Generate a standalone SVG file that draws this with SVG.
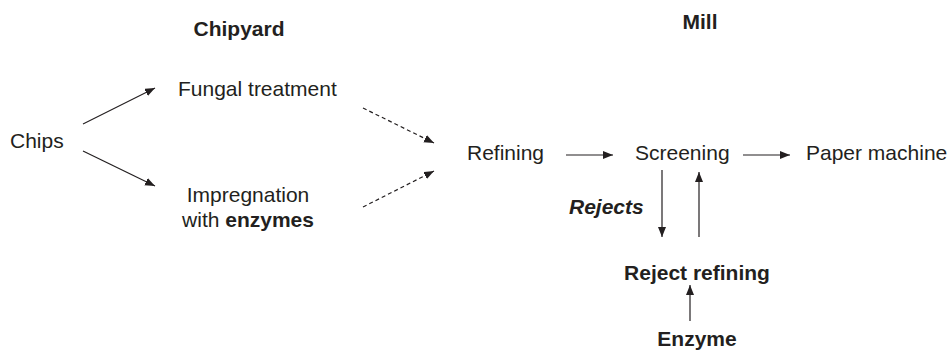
<svg xmlns="http://www.w3.org/2000/svg" width="952" height="351" viewBox="0 0 952 351">
  <style>
    text { font-family: "Liberation Sans", Arial, sans-serif; font-size: 21px; fill: #231f20; }
    .b { font-weight: bold; }
    .bi { font-weight: bold; font-style: italic; }
    .c { stroke: #231f20; stroke-width: 1.2; fill: none; marker-end: url(#head); }
    .d { stroke-dasharray: 4 3; }
  </style>
  <defs>
    <marker id="head" markerUnits="userSpaceOnUse" markerWidth="11" markerHeight="9" refX="10" refY="4" orient="auto" viewBox="0 0 11 9">
      <path d="M0,0 L10,4 L0,8 z" fill="#231f20"/>
    </marker>
  </defs>

  <g id="headings">
    <text class="b" x="239" y="36" text-anchor="middle">Chipyard</text>
    <text class="b" x="700" y="29" text-anchor="middle">Mill</text>
  </g>

  <g id="chips"><text x="10" y="148">Chips</text></g>
  <g id="fungal"><text x="178" y="96">Fungal treatment</text></g>
  <g id="impregnation">
    <text x="248" y="202" text-anchor="middle">Impregnation</text>
    <text x="248" y="227" text-anchor="middle">with <tspan class="b">enzymes</tspan></text>
  </g>
  <g id="refining"><text x="467" y="160">Refining</text></g>
  <g id="screening"><text x="635" y="160">Screening</text></g>
  <g id="paper-machine"><text x="806" y="160">Paper machine</text></g>
  <g id="reject-refining"><text class="b" x="697" y="280" text-anchor="middle">Reject refining</text></g>
  <g id="enzyme"><text class="b" x="697" y="346" text-anchor="middle">Enzyme</text></g>
  <g id="rejects-label"><text class="bi" x="569" y="214">Rejects</text></g>

  <g id="connectors">
    <line class="c" x1="83" y1="124" x2="155" y2="88"/>
    <line class="c" x1="83" y1="151" x2="155" y2="186"/>
    <line class="c d" x1="363" y1="108" x2="434" y2="143"/>
    <line class="c d" x1="363" y1="207" x2="434" y2="171"/>
    <line class="c" x1="566" y1="155" x2="613" y2="155"/>
    <line class="c" x1="743" y1="155" x2="790" y2="155"/>
    <line class="c" x1="662" y1="170" x2="662" y2="237"/>
    <line class="c" x1="699" y1="237" x2="699" y2="172"/>
    <line class="c" x1="690" y1="321" x2="690" y2="285"/>
  </g>
</svg>
